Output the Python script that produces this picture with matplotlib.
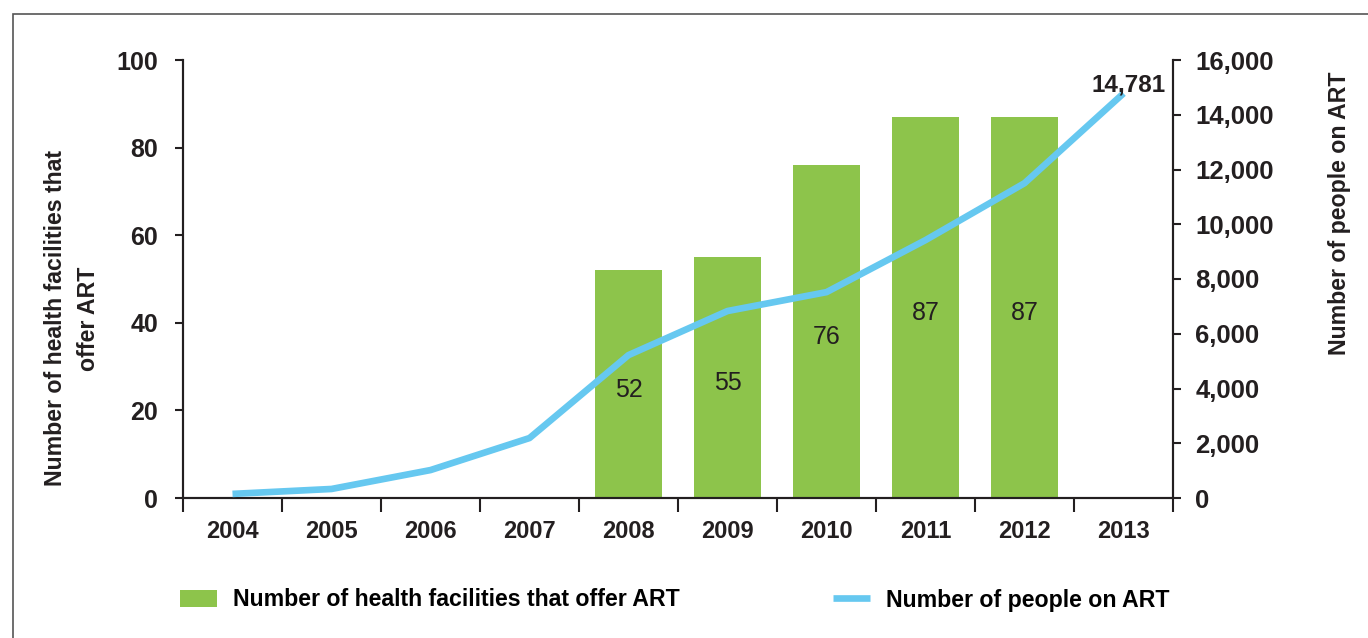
import matplotlib.pyplot as plt
from matplotlib.patches import Rectangle
from matplotlib.ticker import FuncFormatter

plt.rcParams['font.family'] = ['Liberation Sans', 'DejaVu Sans']

years = ['2004', '2005', '2006', '2007', '2008', '2009', '2010', '2011', '2012', '2013']
facilities = [None, None, None, None, 52, 55, 76, 87, 87, None]
people = [150, 330, 1020, 2190, 5220, 6830, 7520, 9420, 11500, 14781]

green = '#8DC44B'
blue = '#66C8F0'
dark = '#231F20'

fig = plt.figure(figsize=(13.68, 6.38), dpi=100)
# grey frame round the chart (only left and top edges are visible)
fig.patches.append(Rectangle((13 / 1368, -0.1), 1.2, 1 - 14 / 638 + 0.1, transform=fig.transFigure,
                             fill=False, edgecolor='#555555', linewidth=1.2))
ax = fig.add_axes([183 / 1368, 1 - 498 / 638, 990 / 1368, 438 / 638])
ax2 = ax.twinx()

x = list(range(len(years)))
bx = [i for i, v in zip(x, facilities) if v is not None]
bv = [v for v in facilities if v is not None]
bars = ax.bar(bx, bv, width=0.67, color=green, label='Number of health facilities that offer ART', zorder=2)
ax.bar_label(bars, label_type='center', fontsize=18, color=dark, padding=-4)

line, = ax2.plot(x, people, color=blue, linewidth=4.8, solid_capstyle='butt',
                 label='Number of people on ART', zorder=3)
ax2.annotate('{:,}'.format(people[-1]), (x[-1], people[-1]), xytext=(4, 6), textcoords='offset points',
             ha='center', va='center', fontsize=17.5, fontweight='bold', color=dark)

ax.set_xlim(-0.5, len(years) - 0.5)
ax.set_ylim(0, 100)
ax2.set_ylim(0, 16000)
ax.set_yticks(range(0, 101, 20))
ax2.set_yticks(range(0, 16001, 2000))
ax2.yaxis.set_major_formatter(FuncFormatter(lambda v, p: '{:,}'.format(int(v))))

ax.set_xticks([i + 0.5 for i in x[:-1]] + [-0.5, len(years) - 0.5])
ax.set_xticklabels([])
ax.set_xticks(x, minor=True)
ax.set_xticklabels(years, minor=True)
ax.tick_params(axis='x', which='major', length=10, width=1.5, color=dark)
ax.tick_params(axis='x', which='minor', length=0, pad=16, labelsize=17, labelcolor=dark)
ax.tick_params(axis='y', length=6, width=1.5, color=dark, labelsize=18, labelcolor=dark, pad=12)
ax2.tick_params(axis='y', length=6, width=1.5, color=dark, labelsize=18.5, labelcolor=dark, pad=10)
for lab in ax.get_xticklabels(minor=True) + ax.get_yticklabels() + ax2.get_yticklabels():
    lab.set_fontweight('bold')

for a in (ax, ax2):
    a.spines['top'].set_visible(False)
    for s in ('left', 'bottom', 'right'):
        a.spines[s].set_color(dark)
        a.spines[s].set_linewidth(1.5)

ax.set_ylabel('Number of health facilities that\noffer ART', fontsize=16.7, fontweight='bold', color=dark,
              linespacing=1.55)
ax.yaxis.set_label_coords(-0.084, 0.41)
ax2.set_ylabel('Number of people on ART', fontsize=16.7, fontweight='bold', color=dark)
ax2.yaxis.set_label_coords(1.1566, 0.651)

fig.legend(handles=[bars, line], loc='center left', bbox_to_anchor=(159 / 1368, 1 - 600 / 638), ncol=2,
           frameon=False, handlelength=1.6, columnspacing=6.6, handletextpad=0.7,
           prop={'weight': 'bold', 'size': 16.7})

fig.savefig('out.png', dpi=100)
